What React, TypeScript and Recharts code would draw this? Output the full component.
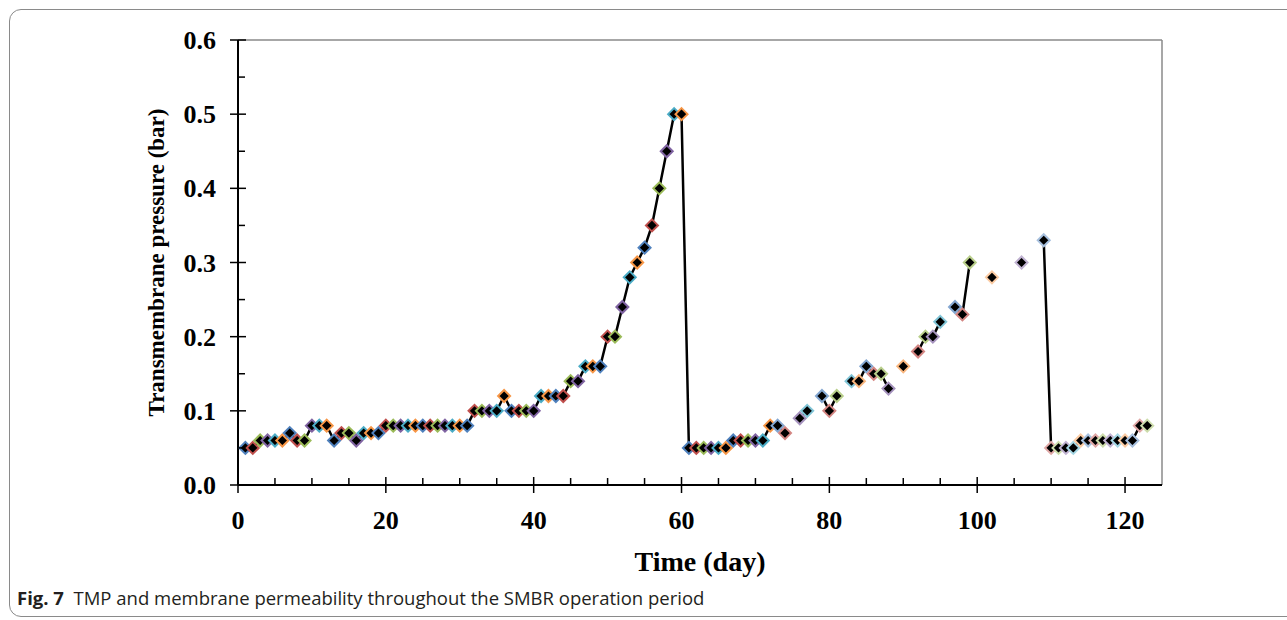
import { LineChart, Line, XAxis, YAxis, ReferenceLine } from 'recharts';

// TMP (bar), one value per day, null = no reading that day
const phase1 = [
    0.05, 0.05, 0.06, 0.06, 0.06, 0.06, 0.07, 0.06, 0.06, 0.08,
    0.08, 0.08, 0.06, 0.07, 0.07, 0.06, 0.07, 0.07, 0.07, 0.08,
    0.08, 0.08, 0.08, 0.08, 0.08, 0.08, 0.08, 0.08, 0.08, 0.08,
    0.08, 0.10, 0.10, 0.10, 0.10, 0.12, 0.10, 0.10, 0.10, 0.10,
    0.12, 0.12, 0.12, 0.12, 0.14, 0.14, 0.16, 0.16, 0.16, 0.20,
    0.20, 0.24, 0.28, 0.30, 0.32, 0.35, 0.40, 0.45, 0.50, 0.50,
];
const phase2 = [
    0.05, 0.05, 0.05, 0.05, 0.05, 0.05, 0.06, 0.06, 0.06, 0.06,
    0.06, 0.08, 0.08, 0.07, null, 0.09, 0.10, null, 0.12, 0.10,
    0.12, null, 0.14, 0.14, 0.16, 0.15, 0.15, 0.13, null, 0.16,
    null, 0.18, 0.20, 0.20, 0.22, null, 0.24, 0.23, 0.30, null,
    null, 0.28, null, null, null, 0.30, null, null, 0.33,
];
const phase3 = [
    0.05, 0.05, 0.05, 0.05, 0.06, 0.06, 0.06, 0.06, 0.06, 0.06,
    0.06, 0.06, 0.08, 0.08,
];

const xTicks = [0, 5, 10, 15, 20, 25, 30, 35, 40, 45, 50, 55, 60, 65, 70, 75, 80, 85, 90, 95, 100, 105, 110, 115, 120];
const yTicks = [0, 0.05, 0.1, 0.15, 0.2, 0.25, 0.3, 0.35, 0.4, 0.45, 0.5, 0.55, 0.6];

const palette = ['#4F81BD', '#C0504D', '#9BBB59', '#8064A2', '#4BACC6', '#F79646'];

const tmp = [...phase1, ...phase2, ...phase3];
const data = tmp.map((v, i) => ({ day: i + 1, tmp: v }));

const serif = '"Liberation Serif", "Times New Roman", serif';

// excel "vary colors by point" gets paler further along the series
function tint(hex: string, t: number) {
    const n = parseInt(hex.slice(1), 16);
    const r = (n >> 16) & 255, g = (n >> 8) & 255, b = n & 255;
    const m = (c: number) => Math.round(c + (255 - c) * t);
    return `rgb(${m(r)},${m(g)},${m(b)})`;
}

const Diamond = (props: any) => {
    const { cx, cy, payload, index } = props;
    if (payload == null || payload.tmp == null || cx == null || cy == null) return <g key={`d${index}`} />;
    const day = payload.day;
    const t = day <= 72 ? 0 : day <= 100 ? 0.3 : 0.5;
    const s = 6;
    return (
        <polygon
            key={`d${index}`}
            points={`${cx},${cy - s} ${cx + s},${cy} ${cx},${cy + s} ${cx - s},${cy}`}
            fill="#000"
            stroke={tint(palette[(day - 1) % 6], t)}
            strokeWidth={2}
        />
    );
};

const XTick = (props: any) => {
    const { x, y, payload } = props;
    const v = payload.value;
    const major = v % 20 === 0;
    return (
        <g>
            {major
                ? <line x1={x} x2={x} y1={y - 8} y2={y + 8} stroke="#000" strokeWidth={1.5} />
                : <line x1={x} x2={x} y1={y - 7} y2={y} stroke="#000" strokeWidth={1.5} />}
            {major && (
                <text x={x} y={y + 44} textAnchor="middle" fontFamily={serif} fontWeight="bold" fontSize={26} fill="#000">
                    {v}
                </text>
            )}
        </g>
    );
};

const YTick = (props: any) => {
    const { x, y, payload } = props;
    const v = payload.value;
    const major = Math.round(v * 100) % 10 === 0;
    return (
        <g>
            {major
                ? <line x1={x - 8} x2={x + 8} y1={y} y2={y} stroke="#000" strokeWidth={1.5} />
                : <line x1={x} x2={x + 7} y1={y} y2={y} stroke="#000" strokeWidth={1.5} />}
            {major && (
                <text x={x - 22} y={y + 9} textAnchor="end" fontFamily={serif} fontWeight="bold" fontSize={26} fill="#000">
                    {v.toFixed(1)}
                </text>
            )}
        </g>
    );
};

const XTitle = (props: any) => {
    const vb = props.viewBox || { x: 238, y: 485, width: 924 };
    return (
        <text x={vb.x + vb.width / 2} y={vb.y + 86} textAnchor="middle" fontFamily={serif} fontWeight="bold" fontSize={28} fill="#000">
            Time (day)
        </text>
    );
};

const YTitle = (props: any) => {
    const vb = props.viewBox || { x: 0, y: 40, height: 445 };
    const x = vb.x + 164;
    const y = vb.y + vb.height / 2;
    return (
        <text x={x} y={y} transform={`rotate(-90, ${x}, ${y})`} textAnchor="middle" fontFamily={serif} fontWeight="bold" fontSize={23} fill="#000">
            Transmembrane pressure (bar)
        </text>
    );
};

export default function App() {
    return (
        <div style={{ position: 'absolute', left: 0, top: 0, width: 1287, height: 620, overflow: 'hidden', background: '#fff' }}>
            <div style={{ position: 'absolute', left: 9, top: 9, width: 1320, height: 606, border: '1px solid #8a8a8a', borderRadius: 12 }} />
            <LineChart
                width={1287}
                height={620}
                data={data}
                margin={{ top: 40, right: 125, left: 0, bottom: 0 }}
            >
                <XAxis
                    dataKey="day"
                    type="number"
                    domain={[0, 125]}
                    ticks={xTicks}
                    interval={0}
                    tickSize={0}
                    tickMargin={0}
                    tickLine={false}
                    tick={<XTick />}
                    axisLine={{ stroke: '#000', strokeWidth: 2 }}
                    height={135}
                    label={<XTitle />}
                />
                <YAxis
                    type="number"
                    domain={[0, 0.6]}
                    ticks={yTicks}
                    interval={0}
                    tickSize={0}
                    tickMargin={0}
                    tickLine={false}
                    tick={<YTick />}
                    axisLine={{ stroke: '#000', strokeWidth: 2 }}
                    width={238}
                    label={<YTitle />}
                />
                <ReferenceLine y={0.6} stroke="#8a8a8a" strokeWidth={1.5} />
                <ReferenceLine x={125} stroke="#8a8a8a" strokeWidth={1.5} />
                <Line
                    dataKey="tmp"
                    stroke="#000"
                    strokeWidth={2.5}
                    dot={Diamond}
                    activeDot={false}
                    connectNulls={false}
                    isAnimationActive={false}
                />
            </LineChart>
            <div style={{ position: 'absolute', left: 17, top: 585, fontFamily: '"Open Sans", "Noto Sans", sans-serif', fontSize: 18.5, color: '#231f20', whiteSpace: 'nowrap' }}>
                <b>Fig. 7</b>&nbsp; TMP and membrane permeability throughout the SMBR operation period
            </div>
        </div>
    );
}
